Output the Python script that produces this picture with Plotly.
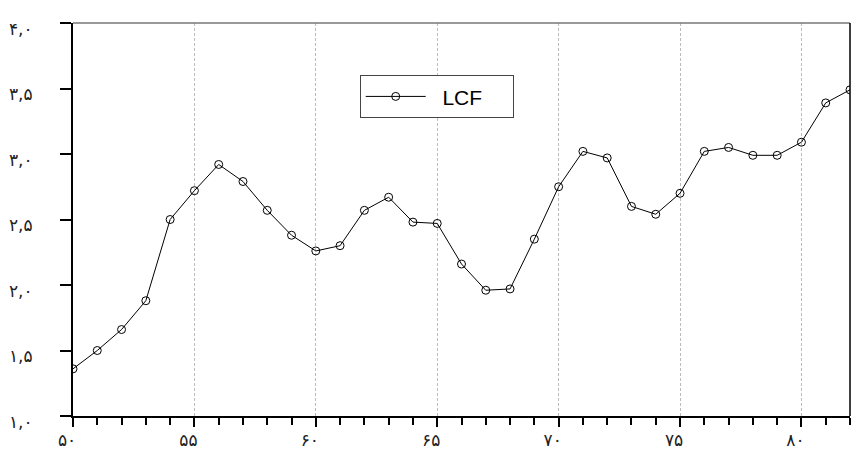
import plotly.graph_objects as go

# LCF series by year
years = list(range(50, 83))
lcf = [1.36, 1.50, 1.66, 1.88, 2.50, 2.72, 2.92, 2.79, 2.57, 2.38, 2.26,
       2.30, 2.57, 2.67, 2.48, 2.47, 2.16, 1.96, 1.97, 2.35, 2.75,
       3.02, 2.97, 2.60, 2.54, 2.70, 3.02, 3.05, 2.99, 2.99, 3.09,
       3.39, 3.49]

x_tick_vals = [50, 55, 60, 65, 70, 75, 80]
x_tick_text = ["۵۰", "۵۵", "۶۰", "۶۵", "۷۰", "۷۵", "۸۰"]
y_tick_vals = [1.0, 1.5, 2.0, 2.5, 3.0, 3.5, 4.0]
y_tick_text = ["۱,۰", "۱,۵", "۲,۰", "۲,۵", "۳,۰", "۳,۵", "۴,۰"]

fig = go.Figure()
fig.add_trace(go.Scatter(
    x=years, y=lcf, name="\u00a0\u00a0LCF", mode="lines+markers",
    line=dict(color="black", width=1),
    marker=dict(symbol="circle-open", size=8, color="black",
                line=dict(color="black", width=1)),
))

tick_font = dict(family="DejaVu Sans", size=17, color="#222")

fig.update_layout(
    width=857, height=461,
    margin=dict(l=73, r=7, t=23, b=45),
    paper_bgcolor="white", plot_bgcolor="white",
    showlegend=True,
    legend=dict(
        x=0.369, y=0.867, xanchor="left", yanchor="top",
        orientation="h", entrywidth=77, itemwidth=60,
        font=dict(family="Arial", size=21, color="black"),
        bordercolor="#444", borderwidth=1, bgcolor="white",
    ),
    xaxis=dict(
        range=[50, 82], tickmode="array", tickvals=x_tick_vals,
        ticktext=x_tick_text, tickfont=tick_font,
        ticks="outside", ticklen=9, tickcolor="black", tickwidth=1.5,
        ticklabelshift=-6, ticklabelstandoff=-1,
        showline=True, linecolor="black", linewidth=1.5,
        showgrid=True, gridcolor="#bbbbbb", griddash="3px,2px", gridwidth=1,
        zeroline=False,
        minor=dict(dtick=1, ticks="outside", ticklen=7, tickcolor="black",
                   tickwidth=1.5, showgrid=False),
    ),
    yaxis=dict(
        range=[1.0, 4.0], tickmode="array", tickvals=y_tick_vals,
        ticktext=y_tick_text, tickfont=tick_font,
        ticks="outside", ticklen=11, tickcolor="black", tickwidth=1.5,
        ticklabelstandoff=24, ticklabelshift=6,
        showline=True, linecolor="black", linewidth=2,
        showgrid=False, zeroline=False,
    ),
    shapes=[
        dict(type="line", xref="paper", yref="paper", x0=0, x1=1, y0=1, y1=1,
             line=dict(color="#777777", width=1.5)),
        dict(type="line", xref="paper", yref="paper", x0=1, x1=1, y0=0, y1=1,
             line=dict(color="black", width=1.5)),
    ],
)

fig.write_html("out.html")
